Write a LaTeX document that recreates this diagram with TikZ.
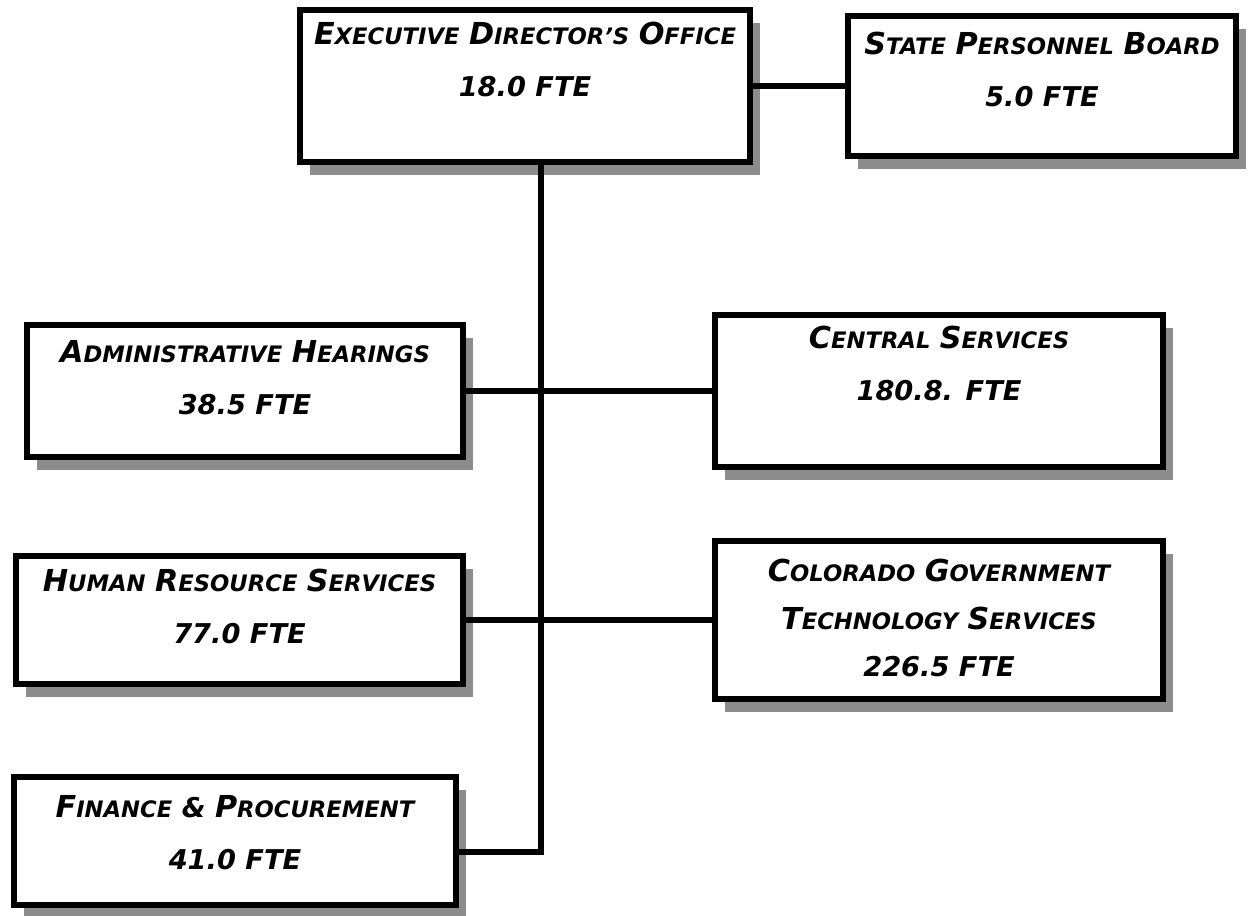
\documentclass[tikz,border=0pt]{standalone}
\usepackage{fontspec}
\setmainfont{DejaVu Sans}
\usepackage{tikz}
\usetikzlibrary{positioning,shadows}

% fake small caps: first letter full size, rest smaller
\newcommand{\smcap}[2]{{\fontsize{17.2pt}{29.5pt}\selectfont#1}{\fontsize{12.9pt}{29.5pt}\selectfont#2}}

\tikzset{
  unit/.style={draw, rectangle, line width=3.2pt, fill=white, inner sep=0pt,
    drop shadow={shadow xshift=0.2cm, shadow yshift=-0.26cm, fill=black!45, opacity=1}},
  unittext/.style={align=center, inner sep=0pt,
    font=\fontsize{15.5pt}{29.5pt}\selectfont\bfseries\itshape},
  link/.style={line width=3pt}
}

\begin{document}
\begin{tikzpicture}
    \useasboundingbox (0,0) rectangle (25.04,-18.3);

    % Top row
    \node[unit, minimum width=9.0cm, minimum height=3.04cm] (edo) at (10.5,-1.72) {};
    \node[unit, minimum width=7.76cm, minimum height=2.8cm] (spb) at (20.84,-1.72) {};
    \node[unittext, below=0.3cm of edo.north] (edo-t)
        {\smcap{E}{XECUTIVE} \smcap{D}{IRECTOR’S} \smcap{O}{FFICE}\\ 18.0 FTE};
    \node[unittext, below=0.38cm of spb.north] (spb-t)
        {\smcap{S}{TATE} \smcap{P}{ERSONNEL} \smcap{B}{OARD}\\ 5.0 FTE};

    % Left column
    \node[unit, minimum width=8.72cm, minimum height=2.64cm] (adm) at (4.9,-7.82) {};
    \node[unit, minimum width=8.94cm, minimum height=2.56cm] (hrs) at (4.79,-12.4) {};
    \node[unit, minimum width=8.84cm, minimum height=2.56cm] (fin) at (4.7,-16.82) {};
    \node[unittext, below=0.36cm of adm.north] (adm-t)
        {\smcap{A}{DMINISTRATIVE} \smcap{H}{EARINGS}\\ 38.5 FTE};
    \node[unittext, below=0.32cm of hrs.north] (hrs-t)
        {\smcap{H}{UMAN} \smcap{R}{ESOURCE} \smcap{S}{ERVICES}\\ 77.0 FTE};
    \node[unittext, below=0.42cm of fin.north] (fin-t)
        {\smcap{F}{INANCE} \& \smcap{P}{ROCUREMENT}\\ 41.0 FTE};

    % Right column
    \node[unit, minimum width=8.96cm, minimum height=3.04cm] (cen) at (18.78,-7.82) {};
    \node[unit, minimum width=8.96cm, minimum height=3.16cm] (cgt) at (18.78,-12.4) {};
    \node[unittext, below=0.28cm of cen.north] (cen-t)
        {\smcap{C}{ENTRAL} \smcap{S}{ERVICES}\\ 180.8. FTE};
    \node[unittext, below=0.42cm of cgt.north, font=\fontsize{15.5pt}{27pt}\selectfont\bfseries\itshape] (cgt-t)
        {\smcap{C}{OLORADO} \smcap{G}{OVERNMENT}\\ \smcap{T}{ECHNOLOGY} \smcap{S}{ERVICES}\\ 226.5 FTE};

    % Connectors
    \coordinate (spine) at (10.82,-17.04);
    \draw[link] (edo.east) -- (spb.west);
    \draw[link] (edo.south -| spine) -- (spine) -- (spine -| fin.east);
    \draw[link] (adm.east) -- (cen.west);
    \draw[link] (hrs.east) -- (cgt.west);
\end{tikzpicture}
\end{document}
